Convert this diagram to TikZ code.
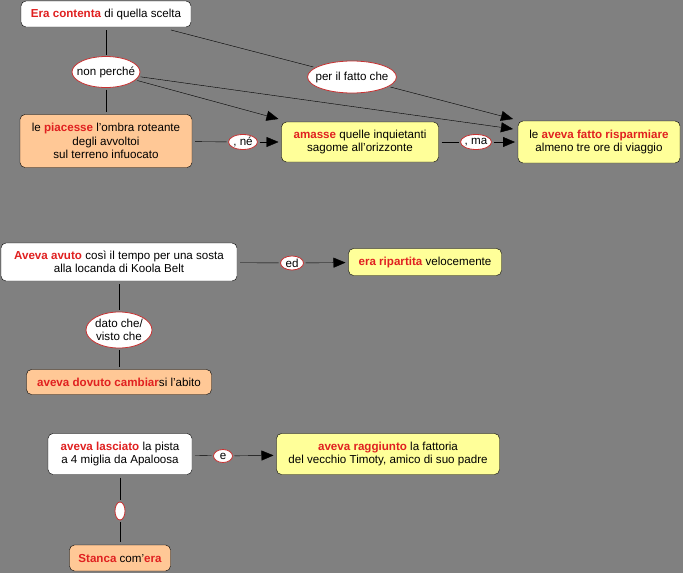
\documentclass[tikz,border=0pt]{standalone}
\usepackage{fontspec}
\setmainfont{Liberation Sans}
\usetikzlibrary{arrows.meta, positioning, shapes.geometric}
\definecolor{mapgray}{HTML}{808080}
\definecolor{mapred}{HTML}{E02020}
\definecolor{maprim}{HTML}{C83232}
\definecolor{maporange}{HTML}{FFC896}
\definecolor{mapyellow}{HTML}{FFFF99}
\newcommand{\hl}[1]{\textcolor{mapred}{\bfseries #1}}

\begin{document}
\begin{tikzpicture}[
    x=1pt, y=-1pt,
    font=\fontsize{11.6}{13.5}\selectfont,
    concept/.style={rectangle, rounded corners=5pt, draw=black, fill=white,
                align=center, inner sep=2pt, outer sep=3pt},
    warm/.style={concept, fill=maporange},
    sun/.style={concept, fill=mapyellow},
    link/.style={ellipse, draw=maprim, thick, fill=white, inner xsep=-5pt,
                inner ysep=-2pt, align=center, outer sep=2pt},
    arr/.style={-{Triangle[length=12pt, width=10pt]}, thin},
    ln/.style={thin}
  ]
    \fill[mapgray] (0,0) rectangle (683,573);
    \useasboundingbox (0,0) rectangle (683,573);

    % first block
    \node[concept, minimum width=170pt, minimum height=26pt] (scelta) at (106,14) {\hl{Era contenta} di quella scelta};
    \node[link, minimum width=68pt, minimum height=31pt] (nonperche) at (106,72) {non perché};
    \node[warm, minimum width=172pt, minimum height=53pt] (ombra) at (106,141) {le \hl{piacesse} l'ombra roteante\\degli avvoltoi\\sul terreno infuocato};
    \node[link, minimum width=86pt, minimum height=32pt] (fatto) at (352,77) {per il fatto che};
    \node[sun, minimum width=157pt, minimum height=40pt] (amasse) at (360,142) {\hl{amasse} quelle inquietanti\\sagome all'orizzonte};
    \node[link, minimum width=29pt, minimum height=15pt] (ne) at (243,142) {, né};
    \node[link, minimum width=31pt, minimum height=15pt] (ma) at (476,142) {, ma};
    \node[sun, minimum width=162pt, minimum height=42pt] (risparmio) at (599,142) {le \hl{aveva fatto risparmiare}\\almeno tre ore di viaggio};

    \coordinate (r1) at (513,119);
    \coordinate (r2) at (513,129);

    \draw[ln] (scelta) -- (nonperche);
    \draw[ln] (nonperche) -- (ombra);
    \draw[ln] (scelta.south east) ++(-23,0) -- (fatto);
    \draw[arr] (fatto) -- (r1);
    \draw[arr] (nonperche) -- (r2);
    \draw[arr] (nonperche) -- (amasse.north west);
    \draw[ln] (ombra) -- (ne);
    \draw[arr] (ne) -- (amasse);
    \draw[ln] (amasse) -- (ma);
    \draw[arr] (ma) -- (risparmio);

    % second block
    \node[concept, minimum width=236pt, minimum height=38pt] (sosta) at (119,262) {\hl{Aveva avuto} così il tempo per una sosta\\alla locanda di Koola Belt};
    \node[link, minimum width=23pt, minimum height=14pt] (ed) at (292,263) {ed};
    \node[sun, minimum width=153pt, minimum height=27pt] (ripartita) at (425,262) {\hl{era ripartita} velocemente};
    \node[link, minimum width=66pt, minimum height=36pt] (dato) at (119,330) {dato che/\\visto che};
    \node[warm, minimum width=185pt, minimum height=25pt] (abito) at (119,382) {\hl{aveva dovuto cambiar}si l'abito};

    \draw[ln] (sosta) -- (ed);
    \draw[arr] (ed) -- (ripartita);
    \draw[ln] (sosta) -- (dato);
    \draw[ln] (dato) -- (abito);

    % third block
    \node[concept, minimum width=144pt, minimum height=41pt] (pista) at (120,454) {\hl{aveva lasciato} la pista\\a 4 miglia da Apaloosa};
    \node[link, minimum width=19pt, minimum height=13pt] (e) at (223,456) {e};
    \node[sun, minimum width=223pt, minimum height=41pt] (fattoria) at (388,454) {\hl{aveva raggiunto} la fattoria\\del vecchio Timoty, amico di suo padre};
    \node[link, minimum width=10pt, minimum height=18pt] (vuoto) at (120,511) {};
    \node[warm, minimum width=101pt, minimum height=26pt] (stanca) at (120,558) {\hl{Stanca} com'\hl{era}};

    \draw[ln] (pista) -- (e);
    \draw[arr] (e) -- (fattoria);
    \draw[ln] (pista) -- (vuoto);
    \draw[ln] (vuoto) -- (stanca);
  \end{tikzpicture}
\end{document}
